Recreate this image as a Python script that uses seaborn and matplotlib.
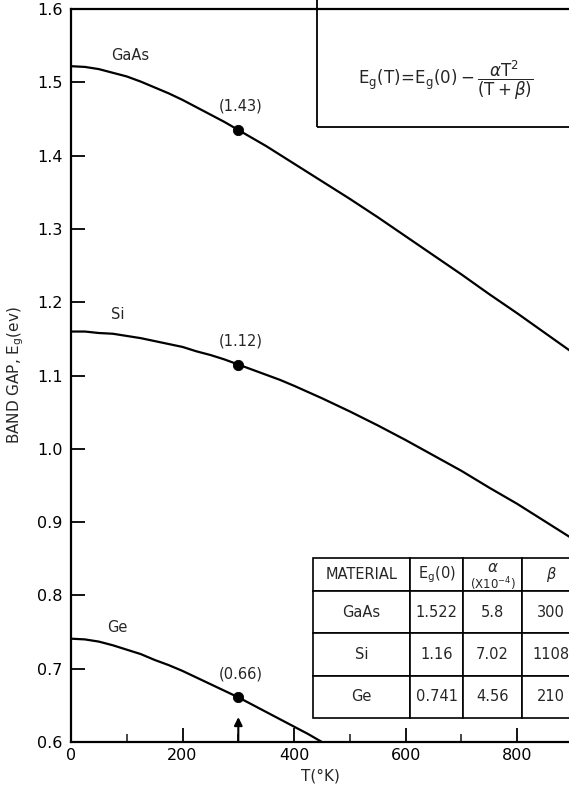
import matplotlib
matplotlib.use('Agg')
import matplotlib.pyplot as plt
import seaborn as sns
import pandas as pd

# band gap values (eV) vs temperature (K)
temp_k = [0, 25, 50, 75, 100, 125, 150, 175, 200, 225, 250, 275, 300, 325, 350, 375, 400,
          450, 500, 550, 600, 650, 700, 750, 800, 850, 900]
gaas_eg = [1.522, 1.521, 1.518, 1.513, 1.508, 1.501, 1.493, 1.485, 1.476, 1.466, 1.456, 1.446,
           1.435, 1.424, 1.413, 1.401, 1.389,
           1.365, 1.341, 1.316, 1.290, 1.264, 1.238, 1.211, 1.185, 1.158, 1.131]
si_eg = [1.160, 1.160, 1.158, 1.157, 1.154, 1.151, 1.147, 1.143, 1.139, 1.133, 1.128, 1.122,
         1.115, 1.108, 1.101, 1.094, 1.086,
         1.069, 1.051, 1.032, 1.012, 0.991, 0.970, 0.947, 0.925, 0.901, 0.877]
ge_temp = [0, 25, 50, 75, 100, 125, 150, 175, 200, 225, 250, 275, 300, 325, 350, 375, 400, 425, 450]
ge_eg = [0.741, 0.740, 0.737, 0.732, 0.726, 0.720, 0.712, 0.705, 0.697, 0.688, 0.679, 0.670,
         0.661, 0.651, 0.641, 0.631, 0.621, 0.611, 0.600]

# room temperature points
rt_temp = [300, 300, 300]
rt_eg = [1.435, 1.115, 0.661]
rt_labels = ['(1.43)', '(1.12)', '(0.66)']

materials = ['GaAs', 'Si', 'Ge']
eg0 = ['1.522', '1.16', '0.741']
alpha = ['5.8', '7.02', '4.56']
beta = ['300', '1108', '210']

sns.set_style('ticks')
plt.rcParams['font.family'] = ['DejaVu Sans']
plt.rcParams['mathtext.fontset'] = 'dejavusans'

fig = plt.figure(figsize=(5.69, 7.91), dpi=100)
ax = fig.add_axes([0.1248, 0.0619, 0.8752, 0.9267])

df = pd.DataFrame({'T': temp_k, 'GaAs': gaas_eg, 'Si': si_eg})
sns.lineplot(data=df, x='T', y='GaAs', ax=ax, color='black', lw=1.6)
sns.lineplot(data=df, x='T', y='Si', ax=ax, color='black', lw=1.6)
sns.lineplot(x=ge_temp, y=ge_eg, ax=ax, color='black', lw=1.6)
sns.scatterplot(x=rt_temp, y=rt_eg, ax=ax, color='black', s=55, zorder=5, edgecolor='black')

for t, e, lab in zip(rt_temp, rt_eg, rt_labels):
    ax.annotate(lab, (t, e), xytext=(2, 17), textcoords='offset points',
                ha='center', va='center', fontsize=10.5)

ax.text(106, 1.537, 'GaAs', ha='center', va='center', fontsize=10.5)
ax.text(83, 1.183, 'Si', ha='center', va='center', fontsize=10.5)
ax.text(83, 0.756, 'Ge', ha='center', va='center', fontsize=10.5)

# arrow marking 300 K
ax.annotate('', xy=(300, 0.634), xytext=(300, 0.6),
            arrowprops=dict(arrowstyle='-|>', color='black', lw=1.5,
                            mutation_scale=12, shrinkA=0, shrinkB=0))

ax.set_xlim(0, 893)
ax.set_ylim(0.6, 1.6)
ax.set_xticks([0, 200, 400, 600, 800])
ax.set_xticks([100, 300, 500, 700], minor=True)
ax.set_yticks([0.6, 0.7, 0.8, 0.9, 1.0, 1.1, 1.2, 1.3, 1.4, 1.5, 1.6])
ax.set_yticklabels(['0.6', '0.7', '0.8', '0.9', '1.0', '1.1', '1.2', '1.3', '1.4', '1.5', '1.6'])
ax.tick_params(axis='both', which='major', direction='in', length=10, width=1.3,
               labelsize=11.5, colors='black')
ax.tick_params(axis='x', which='minor', direction='in', length=6, width=1.2)
ax.tick_params(axis='x', which='major', pad=4)
ax.tick_params(axis='y', which='major', pad=6)

ax.set_xlabel('T(°K)', fontsize=11)
ax.set_ylabel('BAND GAP, E$_{\\mathrm{g}}$(ev)', fontsize=11, labelpad=8)

for side in ['left', 'bottom', 'top']:
    ax.spines[side].set_linewidth(1.6)
    ax.spines[side].set_color('black')
ax.spines['right'].set_visible(False)

# formula box
box = plt.Rectangle((0.494, 0.839), 0.6, 0.2, transform=ax.transAxes, fill=False,
                    lw=1.3, edgecolor='black', clip_on=False)
ax.add_patch(box)
ax.text(0.752, 0.903,
        r'$\mathrm{E_g(T)\!=\!E_g(0)} - \dfrac{\alpha \mathrm{T}^2}{\mathrm{(T+}\beta\mathrm{)}}$',
        transform=ax.transAxes, ha='center', va='center', fontsize=12)

# parameter table
cells = [[m, a, b, c] for m, a, b, c in zip(materials, eg0, alpha, beta)]
header = ['MATERIAL', 'E$_{\\mathrm{g}}$(0)', '', '$\\beta$']
col_w = [0.195, 0.106, 0.119, 0.116]
tab = ax.table(cellText=cells, colLabels=header, cellLoc='center',
               colWidths=col_w, bbox=[0.486, 0.0327, 0.536, 0.218])
tab.auto_set_font_size(False)
tab.set_fontsize(10.5)
for (r, c), cell in tab.get_celld().items():
    cell.set_linewidth(1.2)
    cell.set_edgecolor('black')
    cell.set_facecolor('white')
    cell.set_height(0.045 if r == 0 else 0.058)

# alpha header: large symbol over the small unit line
alpha_x = 0.486 + col_w[0] + col_w[1] + col_w[2] / 2
ax.text(alpha_x, 0.238, r'$\alpha$', transform=ax.transAxes, ha='center', va='center',
        fontsize=11, zorder=10)
ax.text(alpha_x, 0.216, '(X10$^{-4}$)', transform=ax.transAxes, ha='center', va='center',
        fontsize=8.5, zorder=10)

fig.savefig('out.png', dpi=100)
